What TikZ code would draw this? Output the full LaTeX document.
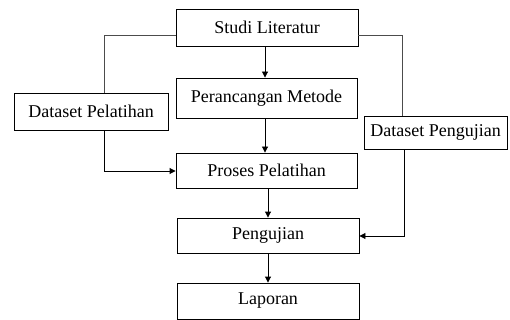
\documentclass[tikz,border=0pt]{standalone}
\usepackage{fontspec}
\setmainfont{Liberation Serif}
\usetikzlibrary{arrows.meta}
\begin{document}
\begin{tikzpicture}[x=1pt,y=-1pt,
  box/.style={draw=black,line width=0.9pt,rectangle,inner sep=0pt,font=\fontsize{18}{21}\selectfont,text=black},
  conn/.style={draw=black!70,line width=0.9pt},
  arr/.style={conn,-{Triangle[length=6pt,width=6pt]},draw=black}]
\useasboundingbox (0,0) rectangle (510,320);
\node[box,minimum width=182pt,minimum height=37pt] (studi) at (267,27.5) {Studi Literatur};
\node[box,minimum width=181pt,minimum height=40pt] (peran) at (266.5,98) {Perancangan Metode};
\node[box,minimum width=181pt,minimum height=35pt] (proses) at (266.5,170.5) {Proses Pelatihan};
\node[box,minimum width=182pt,minimum height=35pt] (uji) at (268,235.5) {Pengujian};
\node[box,minimum width=182pt,minimum height=36pt] (lap) at (268,301) {Laporan};
\node[box,minimum width=154pt,minimum height=37pt] (dpl) at (91,111.5) {Dataset Pelatihan};
\node[box,minimum width=143pt,minimum height=33pt] (dpu) at (435.5,132.5) {Dataset Pengujian};
\coordinate (cl) at (104,35);
\coordinate (cl2) at (104,171);
\coordinate (cr) at (402,35);
\coordinate (cr2) at (404,236);
\draw[conn] (studi.west |- cl) -- (cl) -- (cl |- dpl.north);
\draw[arr] (cl2 |- dpl.south) -- (cl2) -- (proses.west |- cl2);
\draw[conn] (studi.east |- cr) -- (cr) -- (cr |- dpu.north);
\draw[arr] (cr2 |- dpu.south) -- (cr2) -- (uji.east |- cr2);
\coordinate (a1) at (265,0);
\coordinate (a2) at (268,0);
\draw[arr] (a1 |- studi.south) -- (a1 |- peran.north);
\draw[arr] (a1 |- peran.south) -- (a1 |- proses.north);
\draw[arr] (a2 |- proses.south) -- (a2 |- uji.north);
\draw[arr] (a2 |- uji.south) -- (a2 |- lap.north);
\end{tikzpicture}
\end{document}
